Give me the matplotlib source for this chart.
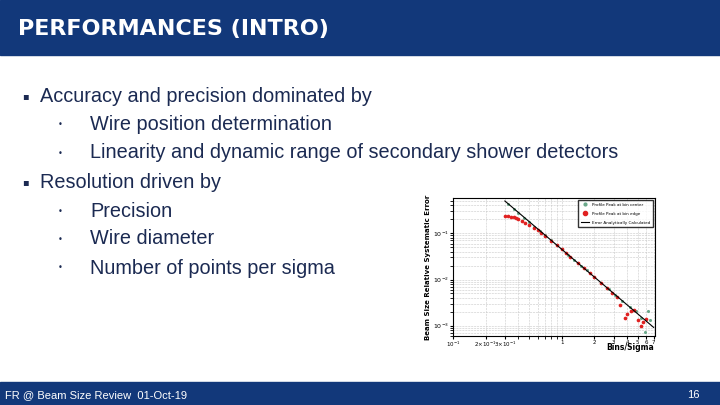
import matplotlib
matplotlib.use("Agg")
import matplotlib.pyplot as plt
from matplotlib.patches import Rectangle
from matplotlib.lines import Line2D

W, H = 720, 405
title = "PERFORMANCES (INTRO)"
bullets = [
    (0, "Accuracy and precision dominated by"),
    (1, "Wire position determination"),
    (1, "Linearity and dynamic range of secondary shower detectors"),
    (0, "Resolution driven by"),
    (1, "Precision"),
    (1, "Wire diameter"),
    (1, "Number of points per sigma"),
]
footer_left = "FR @ Beam Size Review  01-Oct-19"
footer_right = "16"

# chart data
x_line = [0.3, 7.0]
y_line = [0.5, 0.00092]
x_center = [0.32, 0.36, 0.4, 0.45, 0.5, 0.56, 0.63, 0.7, 0.8, 0.9, 1.0, 1.15, 1.3, 1.5, 1.7, 2.0, 2.3, 2.7, 3.1, 3.6, 4.2, 4.8, 5.3, 5.8, 6.2, 6.5]
y_center = [0.43, 0.34, 0.27, 0.215, 0.175, 0.14, 0.112, 0.09, 0.07, 0.055, 0.045, 0.034, 0.027, 0.020, 0.0157, 0.0113, 0.0085, 0.0062, 0.0047, 0.0035, 0.0025, 0.0021, 0.0015, 0.00075, 0.0021, 0.0013]
x_edge = [0.3, 0.32, 0.34, 0.36, 0.38, 0.4, 0.43, 0.46, 0.5, 0.55, 0.6, 0.65, 0.7, 0.8, 0.9, 1.0, 1.1, 1.2, 1.4, 1.6, 1.8, 2.0, 2.3, 2.6, 2.9, 3.2, 3.4, 3.8, 4.0, 4.3, 4.6, 5.0, 5.3, 5.6, 6.0]
y_edge = [0.24, 0.235, 0.228, 0.22, 0.21, 0.2, 0.185, 0.168, 0.15, 0.13, 0.115, 0.1, 0.088, 0.069, 0.055, 0.045, 0.037, 0.031, 0.023, 0.0175, 0.0138, 0.0112, 0.0085, 0.0066, 0.0052, 0.0041, 0.0028, 0.0015, 0.0018, 0.0021, 0.0022, 0.0013, 0.001, 0.0012, 0.0014]

navy = "#12387A"
text_col = "#1B2A52"

fig = plt.figure(figsize=(7.2, 4.05), dpi=100)
fig.patch.set_facecolor("white")

def fx(p): return p / W
def fy(p): return 1 - p / H

fig.add_artist(Rectangle((0, fy(55)), 1, 55 / H, transform=fig.transFigure, color=navy, zorder=0))
fig.text(fx(18), fy(29), title, color="white", fontsize=16, fontweight="bold", va="center", family="DejaVu Sans")
fig.add_artist(Rectangle((0, 0), 1, 23 / H, transform=fig.transFigure, color=navy, zorder=0))
fig.text(fx(5), fy(395), footer_left, color="white", fontsize=8, va="center", family="Liberation Sans")
fig.text(fx(700), fy(395), footer_right, color="white", fontsize=8, va="center", ha="right", family="Liberation Sans")

ys = [96, 124, 153, 182, 211, 239, 268]
for (lvl, t), yy in zip(bullets, ys):
    if lvl == 0:
        fig.text(fx(22), fy(yy), "\u25aa", color=text_col, fontsize=7, va="center", family="DejaVu Sans")
        fig.text(fx(40), fy(yy), t, color=text_col, fontsize=14.3, va="center", family="Liberation Sans")
    else:
        fig.text(fx(58), fy(yy), "\u2022", color=text_col, fontsize=6, va="center", family="DejaVu Sans")
        fig.text(fx(90), fy(yy), t, color=text_col, fontsize=14.3, va="center", family="Liberation Sans")

ax = fig.add_axes([fx(453), fy(336), 202 / W, 138 / H])
ax.set_xscale("log"); ax.set_yscale("log")
ax.set_xlim(0.1, 7.2); ax.set_ylim(6e-4, 0.58)
ax.grid(True, which="both", color="#c8c8c8", lw=0.4, ls="--")
ax.scatter(x_center, y_center, s=5, color="#6aa88a", zorder=3, linewidths=0)
ax.scatter(x_edge, y_edge, s=7, color="#e02020", zorder=4, linewidths=0)
ax.plot(x_line, y_line, color="black", lw=0.8, zorder=5)
ax.set_xticks([0.1, 0.2, 0.3, 1, 2, 3, 4, 5, 6, 7])
ax.set_xticklabels(["10$^{-1}$", "2×10$^{-1}$", "3×10$^{-1}$", "1", "2", "3", "4", "5", "6", "7"])
ax.xaxis.set_minor_formatter(plt.NullFormatter())
ax.set_yticks([1e-3, 1e-2, 1e-1])
ax.set_yticklabels(["10$^{-3}$", "10$^{-2}$", "10$^{-1}$"])
ax.tick_params(axis="x", labelsize=4, length=2, pad=1)
ax.tick_params(axis="y", labelsize=4.5, length=2, pad=1)
ax.set_ylabel("Beam Size Relative Systematic Error", fontsize=5, fontweight="bold", labelpad=1)
fig.text(fx(654), fy(348), "Bins/Sigma", fontsize=5.5, fontweight="bold", ha="right", va="center")
handles = [Line2D([], [], marker="o", ls="", color="#6aa88a", ms=2),
           Line2D([], [], marker="o", ls="", color="#e02020", ms=3),
           Line2D([], [], color="black", lw=0.8)]
ax.legend(handles, ["Profile Peak at bin center", "Profile Peak at bin edge", "Error Analytically Calculated"],
          loc="upper right", fontsize=3, frameon=True, fancybox=False, edgecolor="black", borderpad=0.6, labelspacing=1.2)

fig.savefig("out.png", dpi=100)
